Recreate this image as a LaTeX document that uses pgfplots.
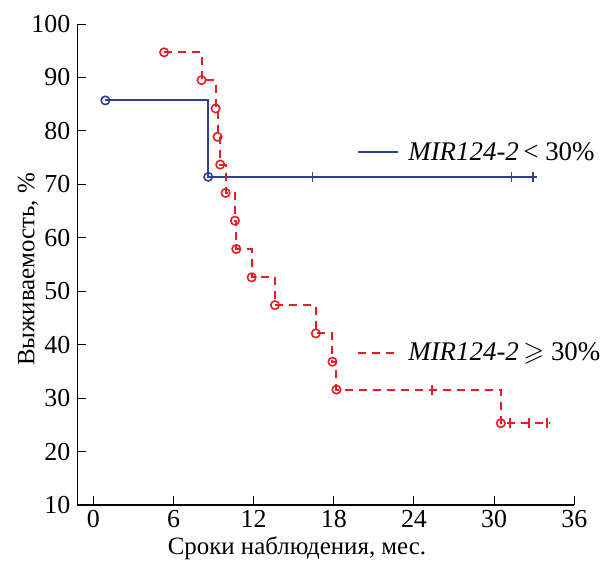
\documentclass[border=0pt]{standalone}
\usepackage{pgfplots}
\pgfplotsset{compat=1.18}
\usepackage{amssymb}
\usepackage{fontspec}
\setmainfont{Liberation Serif}

\definecolor{kmblue}{RGB}{46,64,150}
\definecolor{kmred}{RGB}{228,30,38}

\begin{document}
\begin{tikzpicture}
\begin{axis}[
    name=km,
    scale only axis,
    width=248.5bp, height=240.5bp,
    xmin=-1.2, xmax=36, ymin=10, ymax=100,
    axis x line*=bottom, axis y line*=left,
    xtick={0,6,...,36}, ytick={10,20,...,100},
    tick align=inside,
    major tick length=4.5bp,
    tick style={black, line width=0.5bp},
    axis line style={line width=0.6bp},
    /pgf/number format/assume math mode=true,
    ticklabel style={font=\fontsize{13}{15}\selectfont},
    xticklabel style={yshift=1bp},
    label style={font=\fontsize{12.5}{15}\selectfont},
    xlabel={Сроки наблюдения, мес.},
    ylabel={Выживаемость, \%},
    xlabel style={at={(axis description cs:0.442,-0.1035)}, anchor=base},
    ylabel style={at={(axis description cs:-0.099,0.49)}, anchor=center},
    clip=false,
  ]

  % MIR124-2 < 30%
  \addplot[kmblue, line width=1bp, const plot, mark=none] coordinates {
    (0.9,85.7) (8.6,71.4) (33.2,71.4)
  };
  \addplot[kmblue, only marks, mark=o, mark size=2.1bp,
    mark options={line width=0.8bp, fill=white}] coordinates {
    (0.9,85.7) (8.6,71.4)
  };
  \addplot[kmblue, only marks, mark=|, mark size=2.5bp,
    mark options={line width=0.7bp}] coordinates {
    (16.4,71.4) (31.3,71.4) (32.9,71.4)
  };

  % MIR124-2 >= 30%
  \addplot[kmred, line width=1bp, dash pattern=on 4bp off 3bp, const plot, mark=none] coordinates {
    (5.3,94.7) (8.1,89.5) (9.15,84.2) (9.3,78.9) (9.5,73.7) (9.9,68.4)
    (10.6,63.2) (10.7,57.9) (11.85,52.6) (13.6,47.4) (16.65,42.1)
    (17.9,36.8) (18.2,31.6) (30.5,25.3) (34.2,25.3)
  };
  \addplot[kmred, only marks, mark=o, mark size=2.1bp,
    mark options={line width=0.8bp, fill=white}] coordinates {
    (5.3,94.7) (8.1,89.5) (9.15,84.2) (9.3,78.9) (9.5,73.7) (9.9,68.4)
    (10.6,63.2) (10.7,57.9) (11.85,52.6) (13.6,47.4) (16.65,42.1)
    (17.9,36.8) (18.2,31.6) (30.5,25.3)
  };
  \addplot[kmred, only marks, mark=|, mark size=2.5bp,
    mark options={line width=0.7bp}] coordinates {
    (25.35,31.6) (31.2,25.3) (32.6,25.3) (33.95,25.3)
  };

  % legend samples
  \draw[kmblue, line width=1bp] (axis cs:19.8,76.05) -- (axis cs:22.8,76.05);
  \node[anchor=west, inner sep=0pt, font=\fontsize{13.5}{16}\selectfont]
    at (axis cs:23.55,76.05) {\textit{MIR124-2}\,< 30\%};
  \draw[kmred, line width=1bp, dash pattern=on 4bp off 3bp]
    (axis cs:19.8,38.4) -- (axis cs:22.8,38.4);
  \node[anchor=west, inner sep=0pt, font=\fontsize{13.5}{16}\selectfont]
    at (axis cs:23.55,38.4) {\textit{MIR124-2}\,$\geqslant$ 30\%};
\end{axis}
\pgfresetboundingbox
\path[use as bounding box] ([xshift=-38.65bp,yshift=-28bp]km.south west)
  rectangle ([xshift=261.85bp,yshift=252.5bp]km.south west);
\end{tikzpicture}
\end{document}
